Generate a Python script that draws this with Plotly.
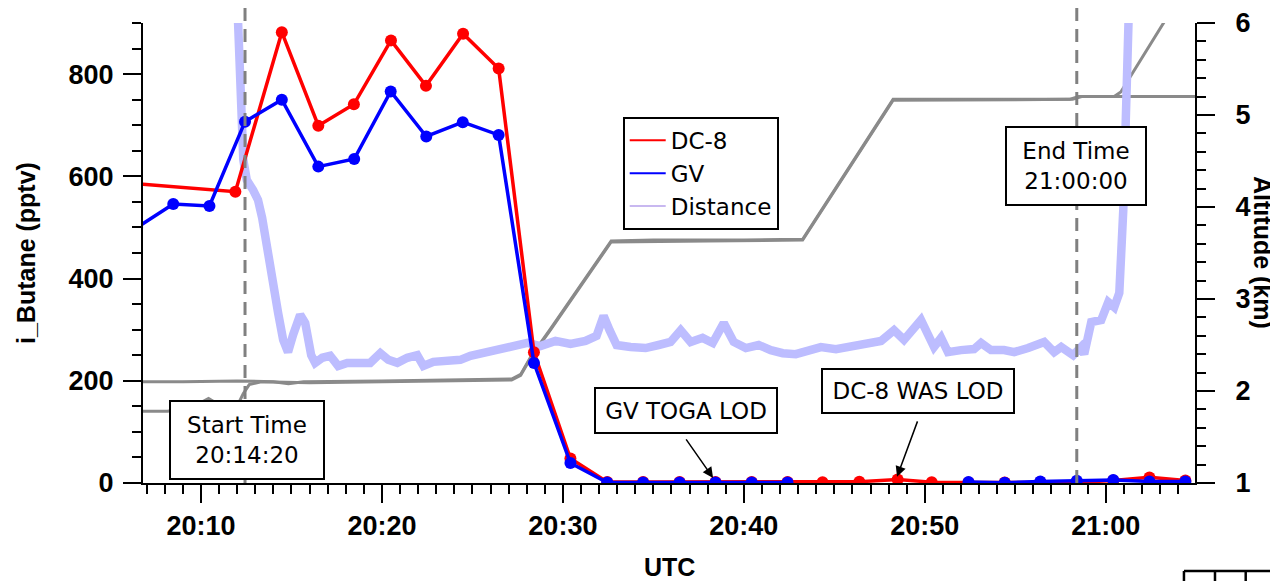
import plotly.graph_objects as go
import pandas as pd

DAY = "2015-01-01 "

# ---------------- data ----------------
dc8_time = ["20:05:54", "20:11:54", "20:14:28", "20:16:29", "20:18:27", "20:20:30", "20:22:26",
            "20:24:29", "20:26:27", "20:28:24", "20:30:25", "20:32:27", "20:34:26", "20:36:27",
            "20:38:26", "20:40:26", "20:42:25", "20:44:21", "20:46:23", "20:48:30", "20:50:23",
            "20:52:25", "20:54:25", "20:56:23", "20:58:24", "21:00:25", "21:02:25", "21:04:24"]
dc8_ibutane = [587, 570, 882, 699, 741, 866, 777, 879, 811, 256, 48, 2, 2, 2, 2, 2, 2,
               1.5, 2.5, 7, 1.5, 1, 1, 2, 1, 5, 11, 5]

gv_time = ["20:06:28", "20:08:28", "20:10:28", "20:12:26", "20:14:28", "20:16:29", "20:18:28",
           "20:20:29", "20:22:27", "20:24:28", "20:26:27", "20:28:24", "20:30:25", "20:32:27",
           "20:34:26", "20:36:27", "20:38:26", "20:40:26", "20:42:25", "20:44:21", "20:46:23",
           "20:48:30", "20:50:23", "20:52:25", "20:54:25", "20:56:23", "20:58:24", "21:00:25",
           "21:02:25", "21:04:24"]
gv_ibutane = [500, 546, 542, 707, 750, 619, 634, 766, 678, 706, 681, 235, 39, 1, 1, 1, 1, 1, 1,
              None, None, None, None, 2, 0.5, 3, 4.5, 6, 3, 3]

# distance track (minutes after 20:00, plotted on the i_Butane scale)
dist_min = [11.95, 12.05, 12.34, 12.53, 12.88, 13.15, 13.38, 13.65, 13.98, 14.26, 14.54, 14.81,
            15.09, 15.48, 15.76, 16.09, 16.31, 16.70, 17.14, 17.58, 18.08, 18.69, 19.35, 19.91,
            20.35, 20.85, 21.40, 21.95, 22.29, 22.84, 23.61, 24.33, 24.89, 25.44, 26.10, 26.71,
            27.38, 28.04, 28.76, 29.59, 30.42, 31.25, 31.86, 32.25, 32.58, 32.97, 33.74, 34.57,
            35.29, 35.95, 36.51, 37.06, 37.72, 38.28, 38.89, 39.44, 40.11, 40.82, 41.49, 42.15,
            42.87, 43.59, 44.26, 45.09, 45.92, 46.75, 47.58, 48.30, 48.85, 49.79, 50.51, 50.90,
            51.28, 52.00, 52.72, 53.11, 53.66, 54.38, 54.94, 55.71, 56.60, 57.15, 57.54, 58.20,
            58.64, 58.81, 59.20, 59.75, 60.14, 60.47, 60.75, 60.97, 61.14, 61.25, 61.32]
dist_val = [960, 900, 632, 593, 573, 554, 519, 456, 397, 333, 280, 256,
            290, 329, 313, 250, 235, 245, 249, 229, 235, 237, 235, 254,
            241, 235, 245, 250, 229, 237, 239, 241, 249, 254, 260, 266,
            270, 274, 268, 278, 272, 278, 288, 327, 299, 270, 266, 264,
            270, 276, 299, 276, 284, 274, 313, 276, 264, 270, 260, 254,
            252, 260, 266, 262, 268, 272, 278, 299, 280, 319, 266, 284,
            256, 260, 262, 274, 260, 260, 256, 264, 276, 256, 266, 250,
            266, 252, 315, 319, 354, 344, 372, 534, 705, 900, 980]

alt_a_time = ["20:05:30", "20:09:00", "20:12:00", "20:14:00", "20:14:50", "20:15:40", "20:20:00",
              "20:25:00", "20:27:10", "20:27:40", "20:28:15", "20:29:20", "20:31:00", "20:32:40",
              "20:35:00", "20:40:00", "20:43:15", "20:48:15", "20:53:00", "20:58:00", "20:58:30",
              "21:05:30"]
alt_a_km = [2.10, 2.10, 2.11, 2.10, 2.08, 2.10, 2.11, 2.12, 2.13, 2.18, 2.38, 2.68, 3.15, 3.63,
            3.64, 3.64, 3.65, 5.17, 5.17, 5.17, 5.20, 5.20]

alt_b_time = ["20:05:30", "20:08:10", "20:08:40", "20:09:40", "20:10:25", "20:11:00", "20:12:05",
              "20:12:20", "20:12:40", "20:13:20", "20:16:00", "20:20:00", "20:25:00", "20:27:10",
              "20:27:40", "20:28:15", "20:29:20", "20:31:00", "20:32:40", "20:38:00", "20:43:15",
              "20:48:15", "20:55:00", "20:58:10", "20:58:40", "21:00:28", "21:00:50", "21:03:13",
              "21:03:40"]
alt_b_km = [1.78, 1.78, 1.80, 1.84, 1.92, 1.85, 1.87, 1.97, 2.07, 2.10, 2.09, 2.10, 2.11, 2.12,
            2.17, 2.37, 2.67, 3.14, 3.62, 3.63, 3.64, 5.16, 5.17, 5.17, 5.20, 5.20, 5.25, 6.00,
            6.15]

start_line = "20:12:26"
end_line = "20:58:24"
x_range = ["20:06:47.7", "21:04:56"]


def hms(lst):
    return [pd.Timestamp(DAY + s) for s in lst]


def mins(lst):
    t0 = pd.Timestamp(DAY + "20:00:00")
    return [t0 + pd.Timedelta(minutes=m) for m in lst]


BOLD = dict(family="Liberation Sans, Arial", size=27, color="black", weight="bold")
TXT = dict(family="DejaVu Sans", size=23, color="black")

fig = go.Figure()

# altitude (right axis, drawn underneath)
for t, a in [(alt_a_time, alt_a_km), (alt_b_time, alt_b_km)]:
    fig.add_trace(go.Scatter(x=hms(t), y=a, mode="lines", yaxis="y",
                             line=dict(color="#8A8A8A", width=3), showlegend=False))

# distance
fig.add_trace(go.Scatter(x=mins(dist_min), y=dist_val, mode="lines", yaxis="y2",
                         line=dict(color="#BDBDFF", width=8.5), showlegend=False))
# DC-8 and GV
fig.add_trace(go.Scatter(x=hms(dc8_time), y=dc8_ibutane, mode="lines+markers", yaxis="y2",
                         line=dict(color="#FF0000", width=3.5),
                         marker=dict(color="#FF0000", size=12), showlegend=False))
fig.add_trace(go.Scatter(x=hms(gv_time), y=gv_ibutane, mode="lines+markers", yaxis="y2",
                         line=dict(color="#0000FF", width=3.5),
                         marker=dict(color="#0000FF", size=12), showlegend=False))

# legend entries (lines only)
for name, col in [("DC-8", "#FF0000"), ("GV", "#0000FF"), ("Distance", "#C8B8F0")]:
    fig.add_trace(go.Scatter(x=[None], y=[None], mode="lines", yaxis="y2", name=name,
                             line=dict(color=col, width=2)))

tick_common = dict(ticks="outside", ticklen=18, tickwidth=2, tickcolor="black",
                   showline=True, linewidth=2, linecolor="black", showgrid=False,
                   zeroline=False, tickfont=BOLD)
minor_common = dict(ticks="outside", ticklen=9, tickwidth=2, tickcolor="black", showgrid=False)

fig.update_layout(
    width=1278, height=581,
    margin=dict(l=135, r=91, t=15, b=106, autoexpand=False),
    paper_bgcolor="white", plot_bgcolor="white",
    xaxis=dict(type="date", range=hms(x_range), tickformat="%H:%M",
               dtick=600000, tick0=DAY + "20:00:00", ticklabelstandoff=0,
               minor=dict(dtick=60000, tick0=DAY + "20:00:00", **minor_common),
               **tick_common),
    yaxis=dict(side="right", range=[1, 6], dtick=1, tick0=1, ticklabelstandoff=15,
               minor=dict(dtick=0.2, tick0=1, **minor_common), **tick_common),
    yaxis2=dict(side="left", overlaying="y", range=[0, 900], dtick=200, tick0=0,
                ticklabelstandoff=4,
                minor=dict(dtick=50, tick0=0, **minor_common), **tick_common),
    legend=dict(x=0.456, y=0.796, xanchor="left", yanchor="top", bgcolor="white",
                bordercolor="black", borderwidth=2, font=TXT, itemwidth=36),
    showlegend=True,
)

# dashed time markers
for t in [start_line, end_line]:
    fig.add_shape(type="line", xref="x", yref="paper", x0=pd.Timestamp(DAY + t),
                  x1=pd.Timestamp(DAY + t), y0=0, y1=1.05, layer="above",
                  line=dict(color="#808080", width=3, dash="13px,8px"))

# axis titles
fig.add_annotation(text="i_Butane (pptv)", xref="paper", yref="paper", x=-0.1112, y=0.5,
                   xanchor="center", yanchor="middle",
                   textangle=-90, showarrow=False, font=dict(BOLD, size=25))
fig.add_annotation(text="Altitude (km)", xref="paper", yref="paper", x=1.0646, y=0.5,
                   xanchor="center", yanchor="middle",
                   textangle=90, showarrow=False, font=dict(BOLD, size=25))
fig.add_annotation(text="UTC", xref="paper", yref="paper", x=0.5, y=-0.1826,
                   xanchor="center", yanchor="middle",
                   showarrow=False, font=dict(BOLD, size=25))

# boxed labels
boxes = [("Start Time<br>20:14:20", 0.0989, 0.0935, 148, 72),
         ("End Time<br>21:00:00", 0.8869, 0.6891, 134, 72),
         ("GV TOGA LOD", 0.5162, 0.1572, 176, 39),
         ("DC-8 WAS LOD", 0.7367, 0.1990, 186, 38)]
for txt, bx, by, w, h in boxes:
    fig.add_annotation(text=txt, xref="paper", yref="paper", x=bx, y=by, showarrow=False,
                       xanchor="center", yanchor="middle",
                       font=TXT, bgcolor="white", bordercolor="black", borderwidth=2,
                       borderpad=2, width=w, height=h, align="center", valign="middle")

# arrows
for t, v, ax, ay in [("20:38:18", 10, -28, -40), ("20:48:28", 12, 21, -57)]:
    fig.add_annotation(text="", x=pd.Timestamp(DAY + t), y=v, xref="x", yref="y2",
                       showarrow=True, arrowhead=2, arrowsize=1.4, arrowwidth=1.5,
                       arrowcolor="black", ax=ax, ay=ay, standoff=0)

# cropped table fragment at the bottom-right corner
for x0, y0, x1, y1 in [(0.9895, -0.1913, 1.09, -0.1913), (0.9895, -0.1913, 0.9895, -0.25),
                       (1.0190, -0.1913, 1.0190, -0.25), (1.0482, -0.1913, 1.0482, -0.25)]:
    fig.add_shape(type="line", xref="paper", yref="paper", x0=x0, y0=y0, x1=x1, y1=y1,
                  line=dict(color="black", width=2.5))

fig.write_html("out.html")
